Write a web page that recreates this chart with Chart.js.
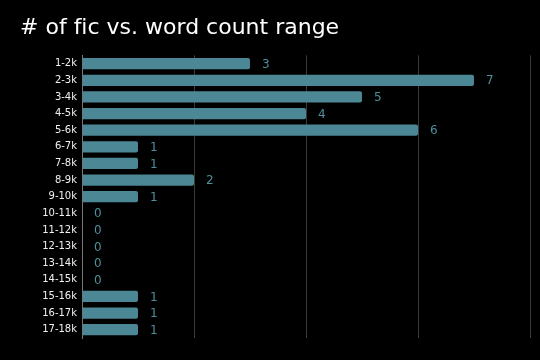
<!DOCTYPE html>
<html>
<head>
<meta charset="utf-8">
<script src="https://cdn.jsdelivr.net/npm/chart.js@4"></script>
<style>
  html, body { margin: 0; padding: 0; background: #000; }
  #wrap { width: 540px; height: 360px; position: relative; }
</style>
</head>
<body>
<div id="wrap"><canvas id="ficChart"></canvas></div>
<script>
const ranges = ["1-2k", "2-3k", "3-4k", "4-5k", "5-6k", "6-7k", "7-8k", "8-9k", "9-10k",
  "10-11k", "11-12k", "12-13k", "13-14k", "14-15k", "15-16k", "16-17k", "17-18k"];
const ficCounts = [3, 7, 5, 4, 6, 1, 1, 2, 1, 0, 0, 0, 0, 0, 1, 1, 1];
const xTicks = [0, 2, 4, 6, 8];

// value labels at the end of each bar
const barValueLabels = {
  id: "barValueLabels",
  afterDatasetsDraw(chart) {
    const ctx = chart.ctx;
    const meta = chart.getDatasetMeta(0);
    ctx.save();
    ctx.fillStyle = "#4f8e9a";
    ctx.font = "12px 'DejaVu Sans'";
    ctx.textAlign = "left";
    ctx.textBaseline = "middle";
    meta.data.forEach((bar, i) => {
      ctx.fillText(String(ficCounts[i]), bar.x + 12, bar.y + 1);
    });
    ctx.restore();
  },
};

const ctx = document.getElementById("ficChart");
new Chart(ctx, {
  type: "bar",
  data: {
    labels: ranges,
    datasets: [
      {
        data: ficCounts,
        backgroundColor: "#4b8794",
        borderRadius: 2,
        borderSkipped: "start",
        barPercentage: 0.68,
        categoryPercentage: 1,
      },
    ],
  },
  options: {
    indexAxis: "y",
    responsive: true,
    maintainAspectRatio: false,
    animation: false,
    layout: { padding: { left: 20, right: 10, top: 0, bottom: 22 } },
    plugins: {
      legend: { display: false },
      tooltip: { enabled: false },
      title: {
        display: true,
        // zero-width non-joiner keeps "f" and "i" apart (no ligature)
        text: "# of f\u200Cic vs. word count range",
        align: "start",
        color: "#ffffff",
        font: { family: "'DejaVu Sans'", size: 22, weight: "normal" },
        padding: { top: 15, bottom: 14 },
      },
    },
    scales: {
      x: {
        min: xTicks[0],
        max: xTicks[xTicks.length - 1],
        afterBuildTicks: (axis) => {
          axis.ticks = xTicks.map((v) => ({ value: v }));
        },
        ticks: { display: false },
        grid: { color: "#3a3a3a", lineWidth: 1, drawTicks: false },
        border: { display: false },
      },
      y: {
        afterFit: (axis) => {
          axis.width = 62;
        },
        ticks: {
          color: "#f0f0f0",
          font: { family: "'DejaVu Sans'", size: 10 },
          padding: 5,
          autoSkip: false,
        },
        grid: { color: "transparent", drawTicks: false },
        border: { display: true, color: "#777777", width: 1 },
      },
    },
  },
  plugins: [barValueLabels],
});
</script>
</body>
</html>
